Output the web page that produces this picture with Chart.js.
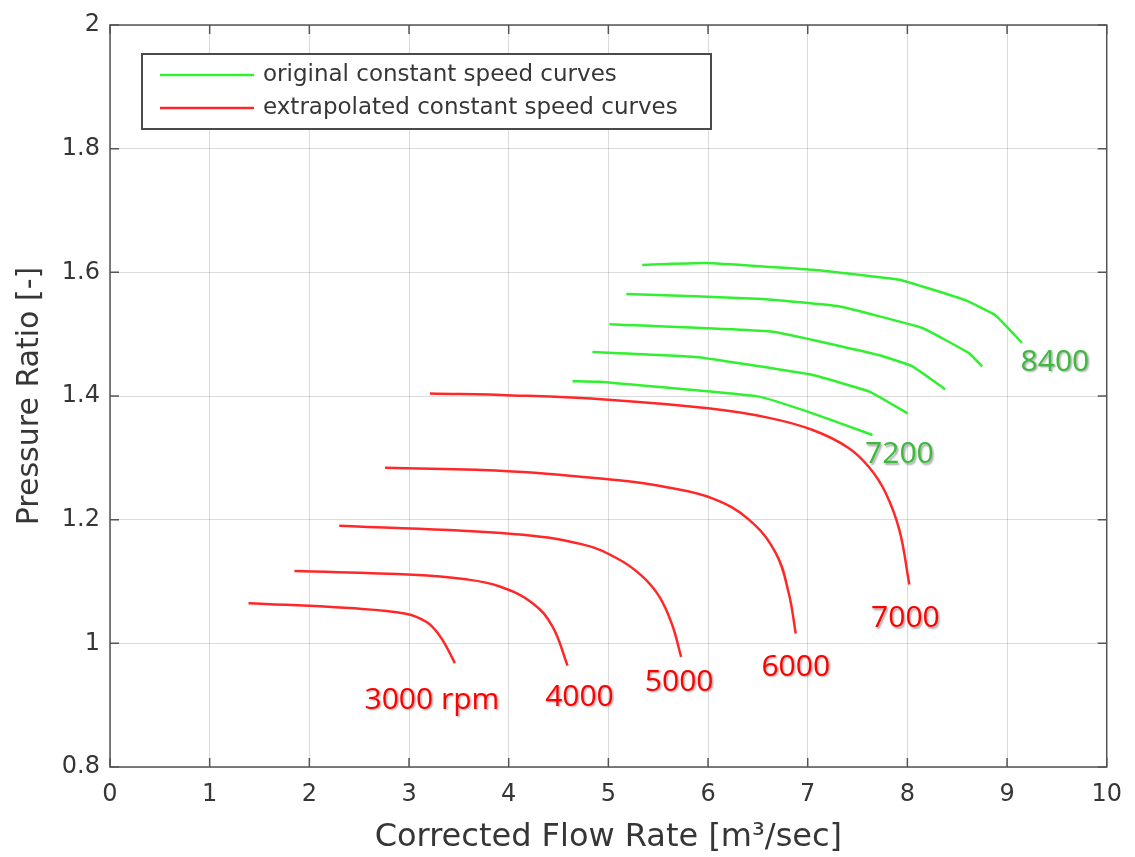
<!DOCTYPE html>
<html>
<head>
<meta charset="utf-8">
<script src="https://cdn.jsdelivr.net/npm/chart.js"></script>
<style>
  html, body { margin: 0; padding: 0; background: #fff; }
  canvas { display: block; }
</style>
</head>
<body>
<canvas id="mapChart" width="1135" height="857"></canvas>
<script>
// compressor map: constant speed lines, pressure ratio vs corrected flow

// original constant speed curves (measured), lowest to highest speed
const orig7200X = [4.64, 4.91, 6.51, 7.05, 7.65];
const orig7200Y = [1.424, 1.423, 1.399, 1.372, 1.337];
const orig7500X = [4.84, 5.88, 7.05, 7.62, 8.0];
const orig7500Y = [1.471, 1.463, 1.434, 1.407, 1.372];
const orig7800X = [5.01, 6.65, 7.72, 8.05, 8.38];
const orig7800Y = [1.516, 1.504, 1.466, 1.448, 1.411];
const orig8100X = [5.18, 6.55, 7.31, 8.15, 8.62, 8.75];
const orig8100Y = [1.565, 1.557, 1.545, 1.510, 1.469, 1.448];
const orig8400X = [5.34, 5.98, 7.05, 7.92, 8.58, 8.88, 9.15];
const orig8400Y = [1.612, 1.615, 1.604, 1.588, 1.555, 1.531, 1.486];

// extrapolated constant speed curves
const ext3000X = [1.39, 2.40, 2.97, 3.18, 3.30, 3.38, 3.46];
const ext3000Y = [1.065, 1.057, 1.048, 1.034, 1.014, 0.993, 0.968];
const ext4000X = [1.85, 3.04, 3.55, 3.91, 4.24, 4.44, 4.59];
const ext4000Y = [1.117, 1.111, 1.104, 1.092, 1.065, 1.027, 0.964];
const ext5000X = [2.30, 4.04, 4.74, 5.08, 5.33, 5.51, 5.64, 5.73];
const ext5000Y = [1.190, 1.177, 1.160, 1.138, 1.110, 1.076, 1.030, 0.978];
const ext6000X = [2.76, 4.04, 5.08, 5.6, 6.05, 6.41, 6.68, 6.81, 6.88];
const ext6000Y = [1.284, 1.278, 1.264, 1.252, 1.234, 1.200, 1.146, 1.081, 1.016];
const ext7000X = [3.21, 4.04, 5.0, 6.0, 6.6, 7.05, 7.41, 7.62, 7.78, 7.92, 8.02];
const ext7000Y = [1.404, 1.401, 1.394, 1.380, 1.365, 1.345, 1.316, 1.284, 1.244, 1.183, 1.095];

const legendLabels = ['original constant speed curves', 'extrapolated constant speed curves'];

// speed annotations
const curveLabels = ['3000 rpm', '4000', '5000', '6000', '7000', '7200', '8400'];
const curveLabelX = [3.23, 4.71, 5.71, 6.88, 7.98, 7.92, 9.48];
const curveLabelY = [0.908, 0.913, 0.937, 0.961, 1.040, 1.305, 1.455];
const curveLabelGroup = [1, 1, 1, 1, 1, 0, 0];

const xTicks = [0, 1, 2, 3, 4, 5, 6, 7, 8, 9, 10];
const yTicks = [0.8, 1, 1.2, 1.4, 1.6, 1.8, 2];

const GREEN = '#30f030';
const RED = '#ff2828';
const LABEL_COLORS = ['#3cba3c', '#ff0000'];
const AXIS_COLOR = '#555';
const TEXT_COLOR = '#363636';
const FONT = "'DejaVu Sans', sans-serif";

function toPoints(xs, ys) {
  return xs.map((x, i) => ({ x: x, y: ys[i] }));
}

function curve(xs, ys, color, smooth) {
  return {
    data: toPoints(xs, ys),
    showLine: true,
    borderColor: color,
    backgroundColor: color,
    borderWidth: 2.5,
    pointRadius: 0,
    fill: false,
    tension: smooth ? 0.4 : 0.1
  };
}

const datasets = [
  curve(orig7200X, orig7200Y, GREEN, false),
  curve(orig7500X, orig7500Y, GREEN, false),
  curve(orig7800X, orig7800Y, GREEN, false),
  curve(orig8100X, orig8100Y, GREEN, false),
  curve(orig8400X, orig8400Y, GREEN, false),
  curve(ext3000X, ext3000Y, RED, true),
  curve(ext4000X, ext4000Y, RED, true),
  curve(ext5000X, ext5000Y, RED, true),
  curve(ext6000X, ext6000Y, RED, true),
  curve(ext7000X, ext7000Y, RED, true)
];

// full box around the axes with inward tick marks on every side
const boxPlugin = {
  id: 'axesBox',
  afterDraw(chart) {
    const { ctx, chartArea: a, scales } = chart;
    const len = 9;
    ctx.save();
    ctx.strokeStyle = AXIS_COLOR;
    ctx.lineWidth = 1.5;
    ctx.beginPath();
    xTicks.forEach(v => {
      const px = scales.x.getPixelForValue(v);
      ctx.moveTo(px, a.bottom); ctx.lineTo(px, a.bottom - len);
      ctx.moveTo(px, a.top); ctx.lineTo(px, a.top + len);
    });
    yTicks.forEach(v => {
      const py = scales.y.getPixelForValue(v);
      ctx.moveTo(a.left, py); ctx.lineTo(a.left + len, py);
      ctx.moveTo(a.right, py); ctx.lineTo(a.right - len, py);
    });
    ctx.stroke();
    ctx.strokeRect(a.left, a.top, a.right - a.left, a.bottom - a.top);
    ctx.restore();
  }
};

// legend box drawn inside the plot, top-left
const legendPlugin = {
  id: 'innerLegend',
  afterDraw(chart) {
    const { ctx, chartArea: a } = chart;
    const bx = a.left + 32, by = a.top + 29, bw = 569, bh = 75;
    ctx.save();
    ctx.fillStyle = '#fff';
    ctx.fillRect(bx, by, bw, bh);
    ctx.strokeStyle = '#4a4a4a';
    ctx.lineWidth = 2;
    ctx.strokeRect(bx, by, bw, bh);
    const colors = [chart.data.datasets[0].borderColor, chart.data.datasets[5].borderColor];
    ctx.font = '23px ' + FONT;
    ctx.textBaseline = 'middle';
    ctx.textAlign = 'left';
    legendLabels.forEach((label, i) => {
      const cy = by + 21 + i * 33;
      ctx.strokeStyle = colors[i];
      ctx.lineWidth = 2.5;
      ctx.beginPath();
      ctx.moveTo(bx + 18, cy);
      ctx.lineTo(bx + 112, cy);
      ctx.stroke();
      ctx.fillStyle = TEXT_COLOR;
      ctx.fillText(label, bx + 121, cy);
    });
    ctx.restore();
  }
};

// rpm annotations next to the curve ends
const curveLabelPlugin = {
  id: 'curveLabels',
  afterDraw(chart) {
    const { ctx, scales } = chart;
    ctx.save();
    ctx.font = "500 30px 'Open Sans', sans-serif";
    ctx.textAlign = 'center';
    ctx.textBaseline = 'middle';
    ctx.shadowColor = 'rgba(0,0,0,0.35)';
    ctx.shadowOffsetX = 1.5;
    ctx.shadowOffsetY = 1.5;
    ctx.shadowBlur = 2;
    curveLabels.forEach((text, i) => {
      ctx.fillStyle = LABEL_COLORS[curveLabelGroup[i]];
      ctx.fillText(text, scales.x.getPixelForValue(curveLabelX[i]), scales.y.getPixelForValue(curveLabelY[i]));
    });
    ctx.restore();
  }
};

new Chart(document.getElementById('mapChart').getContext('2d'), {
  type: 'scatter',
  data: { datasets: datasets },
  options: {
    responsive: false,
    animation: false,
    layout: { padding: { left: 0, right: 27, top: 25, bottom: 0 } },
    plugins: {
      legend: { display: false },
      tooltip: { enabled: false }
    },
    scales: {
      x: {
        type: 'linear',
        min: 0,
        max: 10,
        afterFit(scale) { scale.height = 90; },
        afterBuildTicks(scale) { scale.ticks = xTicks.map(v => ({ value: v })); },
        grid: { color: 'rgba(0,0,0,0.14)', lineWidth: 1, drawTicks: false },
        border: { display: false },
        ticks: {
          color: TEXT_COLOR,
          padding: 13,
          font: { family: FONT, size: 24 },
          callback: v => String(v)
        },
        title: {
          display: true,
          text: 'Corrected Flow Rate [m³/sec]',
          color: TEXT_COLOR,
          font: { family: FONT, size: 32 },
          padding: { top: 0, bottom: 0 }
        }
      },
      y: {
        type: 'linear',
        min: 0.8,
        max: 2,
        afterFit(scale) { scale.width = 110; },
        afterBuildTicks(scale) { scale.ticks = yTicks.map(v => ({ value: v })); },
        grid: { color: 'rgba(0,0,0,0.14)', lineWidth: 1, drawTicks: false },
        border: { display: false },
        ticks: {
          color: TEXT_COLOR,
          padding: 10,
          font: { family: FONT, size: 24 },
          callback: v => String(Math.round(v * 10) / 10)
        },
        title: {
          display: true,
          text: 'Pressure Ratio [-]',
          color: TEXT_COLOR,
          font: { family: FONT, size: 30 },
          padding: { top: 12, bottom: 0 }
        }
      }
    }
  },
  plugins: [boxPlugin, legendPlugin, curveLabelPlugin]
});
</script>
</body>
</html>
